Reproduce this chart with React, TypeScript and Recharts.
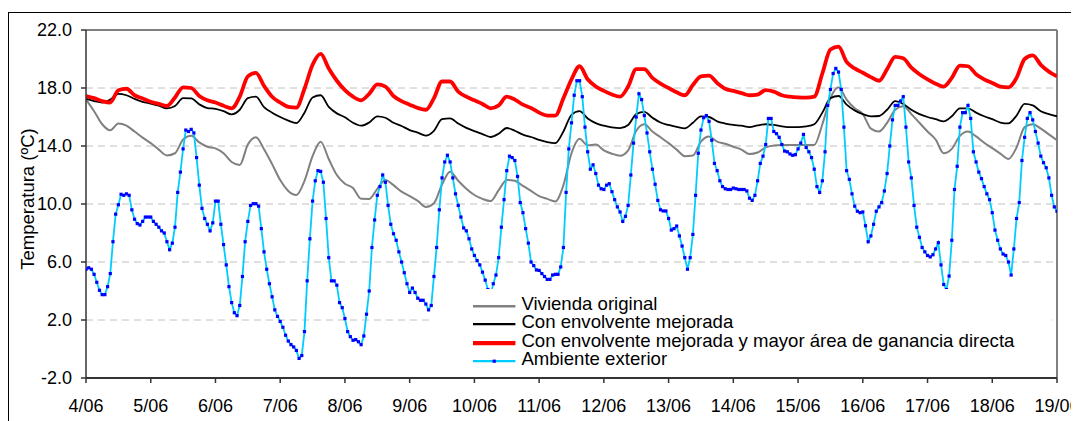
import React from 'react';
import { LineChart, Line, XAxis, YAxis, CartesianGrid, Legend, ReferenceLine } from 'recharts';

const FONT = '"Liberation Sans", Arial, sans-serif';

// X axis day labels (one tick every 24 h)
const dayLabels = ['4/06', '5/06', '6/06', '7/06', '8/06', '9/06', '10/06', '11/06', '12/06', '13/06', '14/06', '15/06', '16/06', '17/06', '18/06', '19/06'];
const yTicks = [-2, 2, 6, 10, 14, 18, 22];

const seriesLabels = [
  'Vivienda original',
  'Con envolvente mejorada',
  'Con envolvente mejorada y mayor área de ganancia directa',
  'Ambiente exterior',
];

// Ambiente exterior, hourly values (h = 0 .. 360)
const exteriorHourly = [
  5.5, 5.6, 5.5, 5.15, 4.6, 4.05, 3.75, 3.75, 4.3, 5.2, 7.4, 9.3, 9.95, 10.67, 10.6, 10.7, 10.6, 9.6, 8.95, 8.65, 8.55, 8.8, 9.1, 9.1,
  9.1, 8.8, 8.6, 8.4, 8.15, 8.0, 7.4, 6.85, 7.3, 8.4, 10.8, 12.2, 13.8, 15.1, 15.0, 15.15, 14.9, 13.2, 11.3, 9.7, 9.0, 8.6, 8.15, 8.7,
  10.2, 10.2, 8.6, 7.2, 5.8, 4.3, 3.2, 2.5, 2.3, 3.0, 5.0, 7.4, 8.8, 9.9, 10.02, 10.02, 9.85, 8.3, 6.7, 5.5, 4.5, 3.6, 2.7, 2.25,
  1.9, 1.5, 0.95, 0.55, 0.3, 0.14, -0.1, -0.65, -0.45, 1.2, 4.7, 7.6, 10.2, 11.6, 12.3, 12.25, 11.5, 9.0, 6.3, 4.7, 4.7, 4.4, 3.2, 2.85,
  2.1, 1.2, 0.85, 0.6, 0.65, 0.5, 0.3, 0.9, 2.4, 4.0, 7.0, 8.9, 10.6, 11.2, 12.0, 11.5, 9.9, 8.6, 7.95, 7.5, 6.7, 6.0, 5.26, 4.5,
  3.9, 4.2, 3.9, 3.5, 3.36, 3.36, 3.1, 2.7, 3.0, 5.0, 7.0, 9.6, 11.8, 12.9, 13.36, 12.9, 11.8, 10.7, 9.9, 9.1, 8.35, 8.15, 7.6, 6.9,
  6.45, 6.1, 5.8, 5.3, 4.75, 4.1, 3.7, 4.5, 5.1, 6.3, 8.4, 10.3, 12.3, 13.3, 13.2, 13.0, 11.9, 10.1, 9.4, 8.3, 7.3, 6.0, 5.75, 5.45,
  5.42, 5.2, 5.0, 4.8, 4.8, 5.1, 5.15, 5.15, 5.66, 7.0, 10.8, 13.8, 15.6, 17.5, 18.5, 18.5, 17.4, 15.3, 13.6, 12.4, 12.7, 12.1, 11.3, 11.05,
  11.0, 11.3, 11.4, 10.85, 10.3, 9.8, 9.45, 8.8, 9.15, 9.9, 12.0, 14.2, 16.0, 17.6, 17.2, 16.1, 14.9, 13.6, 12.4, 11.36, 10.25, 9.6, 9.52, 9.52,
  9.0, 8.2, 8.3, 8.48, 7.8, 7.1, 6.3, 5.5, 6.3, 7.9, 10.6, 13.5, 15.1, 15.95, 16.1, 15.7, 14.4, 12.8, 12.3, 11.6, 11.2, 11.05, 11.0, 11.0,
  11.1, 11.05, 11.0, 11.0, 11.0, 10.9, 10.4, 10.25, 10.6, 11.6, 12.8, 13.3, 14.1, 15.9, 15.9, 15.0, 14.85, 14.6, 14.1, 13.65, 13.6, 13.45, 13.36, 13.4,
  13.8, 14.2, 14.8, 13.9, 13.6, 13.2, 12.4, 11.2, 10.8, 11.6, 13.6, 16.8, 17.9, 19.0, 19.35, 19.1, 17.9, 15.3, 12.3, 11.7, 10.7, 9.85, 9.5, 9.4,
  9.45, 8.5, 7.4, 7.8, 8.6, 9.5, 9.8, 10.1, 10.9, 12.1, 14.0, 15.8, 16.8, 16.8, 17.1, 17.4, 15.3, 12.9, 11.8, 9.9, 8.4, 7.7, 7.0, 6.7,
  6.45, 6.35, 6.5, 6.9, 7.33, 5.8, 4.45, 4.1, 5.03, 7.5, 11.0, 12.6, 15.3, 16.3, 16.3, 16.8, 15.9, 13.6, 12.9, 12.2, 11.75, 11.2, 10.7, 10.3,
  9.4, 8.2, 7.5, 6.9, 6.55, 6.45, 6.0, 5.1, 6.9, 9.0, 10.1, 13.0, 14.6, 15.9, 16.3, 15.8, 15.0, 14.2, 13.3, 12.85, 12.5, 11.8, 10.6, 9.8,
  9.5,
];

// Indoor series, one value every 3 hours (h = 0, 3, ..., 360)
const originalEvery3h = [
  17.2, 16.4, 15.5, 15.08, 15.55, 15.4, 15.0, 14.58,
  14.2, 13.75, 13.35, 13.5, 14.45, 14.7, 14.25, 13.95,
  13.84, 13.5, 12.9, 12.69, 14.1, 14.6, 13.78, 12.75,
  11.65, 10.9, 10.62, 11.6, 13.3, 14.3, 13.1, 12.0,
  11.4, 11.1, 10.36, 10.35, 11.05, 11.66, 11.3, 10.85,
  10.55, 10.22, 9.8, 10.05, 11.35, 12.23, 11.6, 11.05,
  10.62, 10.35, 10.2, 10.95, 11.66, 11.6, 11.25, 10.9,
  10.55, 10.35, 10.18, 11.3, 13.5, 14.5, 14.05, 14.1,
  13.7, 13.47, 13.33, 13.7, 15.05, 15.5, 15.0, 14.6,
  14.2, 13.75, 13.3, 13.35, 14.3, 14.65, 14.3, 14.15,
  13.95, 13.75, 13.45, 13.55, 13.9, 14.03, 14.07, 14.07,
  14.07, 14.07, 14.07, 15.5, 17.3, 18.05, 17.2, 16.6,
  16.2, 15.2, 15.0, 15.6, 16.5, 16.75, 16.2, 15.6,
  15.0, 14.45, 13.5, 13.8, 14.7, 15.0, 14.66, 14.22,
  13.85, 13.47, 13.1, 13.9, 15.3, 15.5, 15.2, 14.8,
  14.4,
];

const mejoradaEvery3h = [
  17.25, 17.1, 17.0, 17.2, 17.6, 17.5, 17.25, 17.05,
  16.92, 16.78, 16.6, 16.76, 17.3, 17.28, 16.87, 16.62,
  16.56, 16.4, 16.18, 16.5, 17.3, 17.4, 16.68, 16.3,
  16.0, 15.75, 15.58, 16.3, 17.35, 17.5, 16.7, 16.25,
  15.98, 15.6, 15.4, 15.62, 16.05, 15.95, 15.6, 15.38,
  15.1, 14.92, 14.72, 15.05, 15.85, 15.9, 15.55, 15.25,
  15.02, 14.82, 14.62, 14.85, 15.24, 15.05, 14.78, 14.62,
  14.42, 14.27, 14.2, 15.0, 16.15, 16.4, 15.9, 15.58,
  15.4, 15.28, 15.23, 15.45, 16.2, 16.35, 15.95, 15.62,
  15.45, 15.32, 15.22, 15.6, 16.05, 16.0, 15.7, 15.55,
  15.45, 15.4, 15.3, 15.42, 15.5, 15.45, 15.36, 15.3,
  15.3, 15.35, 15.5, 16.3, 17.3, 17.45, 16.85, 16.45,
  16.2, 16.05, 16.07, 16.5, 17.1, 16.9, 16.5, 16.2,
  16.0, 15.85, 15.7, 16.05, 16.6, 16.6, 16.3, 16.05,
  15.85, 15.62, 15.56, 16.1, 16.9, 16.8, 16.4, 16.2,
  16.05,
];

const gananciaEvery3h = [
  17.45, 17.3, 17.1, 17.0, 17.85, 17.95, 17.5, 17.28,
  17.05, 16.9, 16.76, 17.35, 18.05, 18.0, 17.45, 17.15,
  17.0, 16.78, 16.6, 17.4, 18.8, 19.05, 18.15, 17.4,
  17.0, 16.7, 16.65, 17.95, 19.6, 20.35, 19.35, 18.5,
  17.85, 17.4, 17.15, 17.6, 18.25, 18.1, 17.45, 17.1,
  16.85, 16.62, 16.5, 17.3, 18.45, 18.45, 17.75, 17.4,
  17.15, 16.9, 16.6, 16.8, 17.4, 17.2, 16.85, 16.62,
  16.3, 16.1, 16.1, 17.3, 18.6, 19.5, 18.6, 18.1,
  17.8, 17.55, 17.4, 18.1, 19.3, 19.3, 18.7, 18.3,
  18.0, 17.7, 17.5, 18.2, 18.8, 18.85, 18.35, 17.95,
  17.8, 17.65, 17.5, 17.55, 17.85, 17.75, 17.5, 17.4,
  17.35, 17.33, 17.4, 19.0, 20.65, 20.85, 19.8, 19.35,
  19.05, 18.75, 18.5, 19.3, 20.15, 20.05, 19.4, 18.95,
  18.6, 18.3, 18.1, 18.7, 19.55, 19.5, 18.95, 18.6,
  18.35, 18.1, 18.05, 18.7, 20.0, 20.25, 19.6, 19.13,
  18.8,
];

const COLORS = ['#808080', '#000000', '#FF0000', '#00CCFF'];
const WIDTHS = [2, 1.8, 3.8, 1.8];
const MARKER = '#0000FF';

const data = exteriorHourly.map((v, h) => ({
  h,
  exterior: v,
  original: h % 3 === 0 ? originalEvery3h[h / 3] : null,
  mejorada: h % 3 === 0 ? mejoradaEvery3h[h / 3] : null,
  ganancia: h % 3 === 0 ? gananciaEvery3h[h / 3] : null,
}));

const xTicks = dayLabels.map((_, i) => i * 24);

const SquareDot = (props: any) => {
  const { cx, cy } = props;
  if (cx == null || cy == null) return <g />;
  return <rect x={cx - 1.6} y={cy - 1.6} width={3.2} height={3.2} fill={MARKER} />;
};

const renderLegend = () => (
  <div style={{ paddingLeft: 39, paddingTop: 6, fontFamily: FONT, fontSize: 18.6, color: '#000' }}>
    {seriesLabels.map((label, i) => (
      <div
        key={label}
        style={{ display: 'flex', alignItems: 'center', height: 18.33, lineHeight: '18.33px', whiteSpace: 'nowrap' }}
      >
        <svg width={48.4} height={18.33} style={{ flex: 'none', display: 'block' }}>
          <line x1={0} x2={42.4} y1={11.2} y2={11.2} stroke={COLORS[i]} strokeWidth={WIDTHS[i] + 0.4} />
          {i === 3 && <rect x={21.2 - 1.6} y={11.2 - 1.6} width={3.2} height={3.2} fill={MARKER} />}
        </svg>
        <span>{label}</span>
      </div>
    ))}
  </div>
);

const YLabel = (props: any) => {
  const vb = props.viewBox || { x: 0, y: 22, width: 78, height: 348 };
  const cx = vb.x + 19;
  const cy = vb.y + vb.height / 2 - 5;
  return (
    <text
      x={cx}
      y={cy}
      transform={`rotate(-90, ${cx}, ${cy})`}
      textAnchor="middle"
      dominantBaseline="central"
      fontFamily={FONT}
      fontSize={18.5}
      fill="#000"
    >
      Temperatura (ºC)
    </text>
  );
};

export default function App() {
  return (
    <div style={{ position: 'relative', width: 1071, height: 413, overflow: 'hidden' }}>
      <div
        style={{
          position: 'absolute',
          left: 0,
          top: 4,
          width: 1200,
          height: 600,
          borderLeft: '1px solid #000',
          borderTop: '1px solid #000',
          boxSizing: 'border-box',
        }}
      />
      <LineChart width={1071} height={413} data={data} margin={{ top: 22, right: 22, bottom: 0, left: 0 }}>
        <CartesianGrid vertical={false} stroke="#C0C0C0" strokeDasharray="7 5" />
        <XAxis
          dataKey="h"
          type="number"
          domain={[0, 360]}
          ticks={xTicks}
          interval={0}
          tickFormatter={(v: number) => dayLabels[Math.round(v / 24)]}
          tick={{ fontSize: 18, fill: '#000', fontFamily: FONT }}
          tickSize={5}
          tickMargin={16}
          height={43}
          axisLine={{ stroke: '#333', strokeWidth: 2 }}
          tickLine={{ stroke: '#333', strokeWidth: 1.5 }}
          allowDataOverflow
        />
        <YAxis
          type="number"
          domain={[-2, 22]}
          ticks={yTicks}
          interval={0}
          tickFormatter={(v: number) => v.toFixed(1)}
          tick={{ fontSize: 18, fill: '#000', fontFamily: FONT }}
          tickSize={5}
          tickMargin={9}
          width={78}
          axisLine={{ stroke: '#333', strokeWidth: 1.5 }}
          tickLine={{ stroke: '#333', strokeWidth: 1.5 }}
          label={<YLabel />}
          allowDataOverflow
        />
        <ReferenceLine y={22} stroke="#808080" strokeWidth={2} />
        <ReferenceLine x={360} stroke="#808080" strokeWidth={2} />
        <Line
          dataKey="original"
          type="monotone"
          stroke={COLORS[0]}
          strokeWidth={WIDTHS[0]}
          dot={false}
          connectNulls
          isAnimationActive={false}
        />
        <Line
          dataKey="mejorada"
          type="monotone"
          stroke={COLORS[1]}
          strokeWidth={WIDTHS[1]}
          dot={false}
          connectNulls
          isAnimationActive={false}
        />
        <Line
          dataKey="ganancia"
          type="monotone"
          stroke={COLORS[2]}
          strokeWidth={WIDTHS[2]}
          dot={false}
          connectNulls
          isAnimationActive={false}
        />
        <Line
          dataKey="exterior"
          type="linear"
          stroke={COLORS[3]}
          strokeWidth={WIDTHS[3]}
          dot={(p: any) => <SquareDot key={`d${p.index}`} {...p} />}
          activeDot={false}
          isAnimationActive={false}
        />
        <Legend
          layout="vertical"
          align="center"
          verticalAlign="middle"
          content={renderLegend}
          wrapperStyle={{ left: 426, top: 281, width: 618, height: 87, background: '#fff' }}
        />
      </LineChart>
    </div>
  );
}
